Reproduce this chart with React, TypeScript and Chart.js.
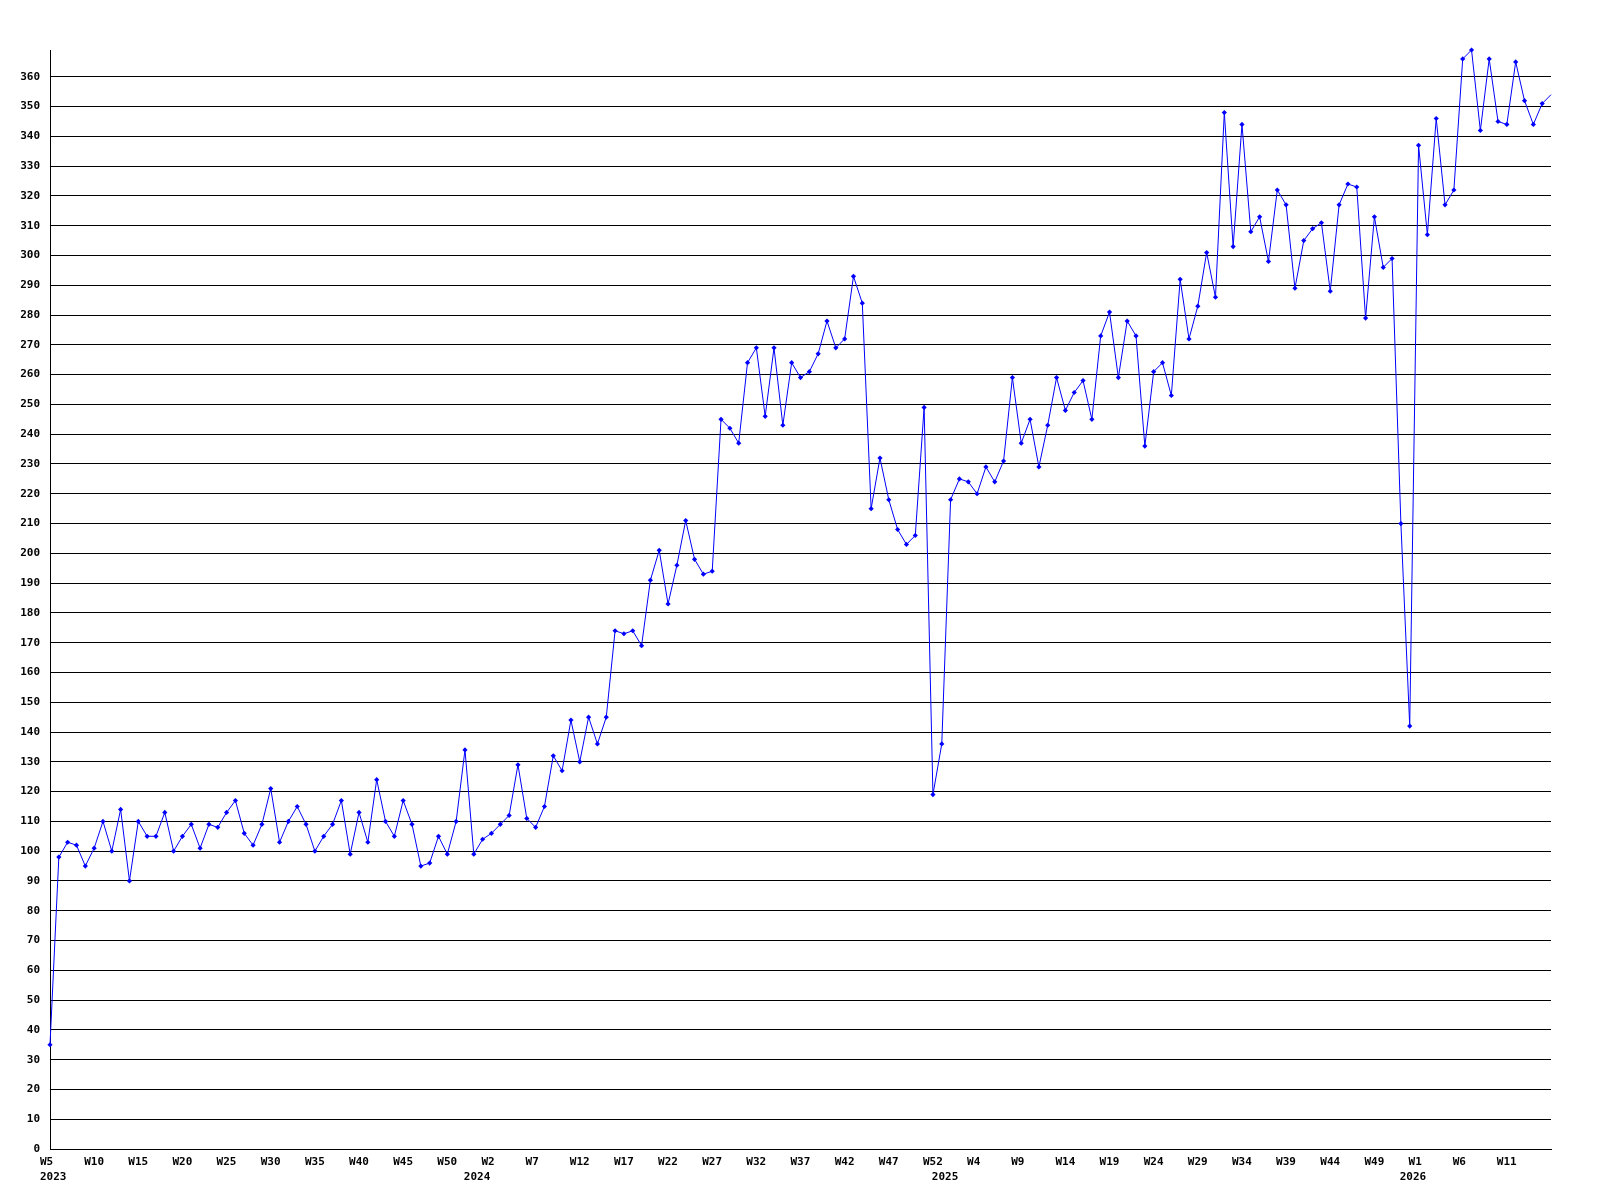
import React, { useEffect, useRef } from "react";
import { Chart, registerables } from "chart.js";

Chart.register(...registerables);

// [year, first week, last week] covered by the series
const weekSegments: [number, number, number][] = [
  [2023, 5, 52],
  [2024, 0, 52],
  [2025, 0, 52],
  [2026, 0, 16],
];

const weeklyCounts: number[] = [
  35, 98, 103, 102, 95, 101, 110, 100, 114, 90,
  110, 105, 105, 113, 100, 105, 109, 101, 109, 108,
  113, 117, 106, 102, 109, 121, 103, 110, 115, 109,
  100, 105, 109, 117, 99, 113, 103, 124, 110, 105,
  117, 109, 95, 96, 105, 99, 110, 134, 99, 104,
  106, 109, 112, 129, 111, 108, 115, 132, 127, 144,
  130, 145, 136, 145, 174, 173, 174, 169, 191, 201,
  183, 196, 211, 198, 193, 194, 245, 242, 237, 264,
  269, 246, 269, 243, 264, 259, 261, 267, 278, 269,
  272, 293, 284, 215, 232, 218, 208, 203, 206, 249,
  119, 136, 218, 225, 224, 220, 229, 224, 231, 259,
  237, 245, 229, 243, 259, 248, 254, 258, 245, 273,
  281, 259, 278, 273, 236, 261, 264, 253, 292, 272,
  283, 301, 286, 348, 303, 344, 308, 313, 298, 322,
  317, 289, 305, 309, 311, 288, 317, 324, 323, 279,
  313, 296, 299, 210, 142, 337, 307, 346, 317, 322,
  366, 369, 342, 366, 345, 344, 365, 352, 344, 351,
  354,
];

const yMin = 0;
const yMax = 369;
const yStep = 10;
const weekLabelEvery = 5;

const categories: { year: number; week: number; yearStart: boolean }[] = [];
for (const [year, a, b] of weekSegments) {
  for (let w = a; w <= b; w++) {
    categories.push({ year, week: w, yearStart: w === a });
  }
}
const categoryNames = categories.map((c) => `${c.year}-W${c.week}`);

const FONT = "'DejaVu Sans Mono', monospace";

export default function App() {
  const ref = useRef<HTMLCanvasElement | null>(null);

  useEffect(() => {
    if (!ref.current) return;
    const last = weeklyCounts.length - 1;
    const chart = new Chart(ref.current, {
      type: "line",
      data: {
        labels: categoryNames,
        datasets: [
          {
            data: weeklyCounts,
            borderColor: "#0000ff",
            backgroundColor: "#0000ff",
            borderWidth: 1,
            tension: 0,
            pointStyle: "rectRot",
            pointRadius: (ctx: any) => (ctx.dataIndex === last ? 0 : 2.6),
            pointBorderWidth: 0,
            pointBackgroundColor: "#0000ff",
            clip: false,
          } as any,
        ],
      },
      options: {
        animation: false,
        responsive: false,
        devicePixelRatio: 1,
        events: [],
        layout: { padding: { top: 50, right: 49, left: 0, bottom: 0 } },
        plugins: {
          legend: { display: false },
          tooltip: { enabled: false },
          title: { display: false },
        },
        scales: {
          x: {
            type: "category",
            grid: { display: false, drawTicks: false },
            border: { display: true, color: "#000000", width: 1 },
            afterFit: (scale: any) => {
              scale.height = 51;
            },
            ticks: {
              autoSkip: false,
              maxRotation: 0,
              minRotation: 0,
              align: "start",
              labelOffset: -10,
              padding: 6,
              color: "#000000",
              font: { family: FONT, size: 11, weight: "bold", lineHeight: 15 / 11 },
              callback: (_v: any, i: number) => {
                const c = categories[i];
                const wk =
                  i % weekLabelEvery === 0 && i < weeklyCounts.length - 1 ? `W${c.week}` : "";
                if (c.yearStart) return [wk, String(c.year)];
                return wk;
              },
            },
          },
          y: {
            type: "linear",
            min: yMin,
            max: yMax,
            grid: { color: "#000000", lineWidth: 1, drawTicks: false },
            border: { display: true, color: "#000000", width: 1 },
            afterFit: (scale: any) => {
              scale.width = 50;
            },
            ticks: {
              stepSize: yStep,
              includeBounds: false,
              padding: 10,
              color: "#000000",
              font: { family: FONT, size: 11, weight: "bold" },
            },
          },
        },
      },
    });
    return () => chart.destroy();
  }, []);

  return (
    <div
      style={{
        position: "absolute",
        left: 0,
        top: 0,
        width: 1600,
        height: 1200,
        background: "#ffffff",
      }}
    >
      <canvas ref={ref} width={1600} height={1200} style={{ width: 1600, height: 1200 }} />
    </div>
  );
}
